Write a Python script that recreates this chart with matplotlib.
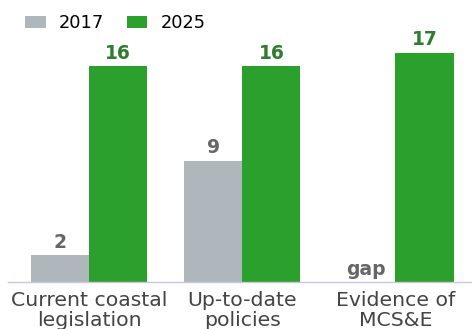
import matplotlib
matplotlib.use("Agg")
import matplotlib.pyplot as plt
import numpy as np

categories = ["Current coastal\nlegislation", "Up-to-date\npolicies", "Evidence of\nMCS&E"]
vals_2017 = [2, 9, 0]
vals_2025 = [16, 16, 17]
labels_2017 = ["2", "9", "gap"]
labels_2025 = ["16", "16", "17"]

W, H = 472, 329
fig = plt.figure(figsize=(W/100, H/100), dpi=100)
base = 282
ppu = 13.5
ymax = 18
top = base - ymax * ppu
ax = fig.add_axes([8/W, (H-base)/H, 1 - 8/W, (base-top)/H])

x = np.arange(len(categories))
w = 0.38
gray = "#b0b7bc"
green = "#2ca02c"
b1 = ax.bar(x - w/2, vals_2017, w, color=gray, label="2017")
b2 = ax.bar(x + w/2, vals_2025, w, color=green, label="2025")

for xi, v, t in zip(x, vals_2017, labels_2017):
    ax.text(xi - w/2, v + 0.25, t, ha="center", va="bottom", fontsize=13.5,
            fontweight="bold", color="#666666")
for xi, v, t in zip(x, vals_2025, labels_2025):
    ax.text(xi + w/2, v + 0.25, t, ha="center", va="bottom", fontsize=13.5,
            fontweight="bold", color="#2e7d2e")

ax.set_xlim(-0.53, 2.5)
ax.set_ylim(0, ymax)
ax.set_xticks(x)
ax.set_xticklabels(categories, fontsize=14.7, color="#444444", linespacing=1.12)
ax.tick_params(axis="x", length=0, pad=6.2)
ax.set_yticks([])
for s in ["top", "right", "left"]:
    ax.spines[s].set_visible(False)
ax.spines["bottom"].set_color("#c8c8dc")
ax.spines["bottom"].set_linewidth(1.0)

fig.legend(handles=[b1, b2], loc="upper left", bbox_to_anchor=(0.02, 1.005),
           ncol=2, frameon=False, fontsize=12.8, handlelength=1.15,
           handleheight=0.7, columnspacing=1.25, handletextpad=0.75)

fig.savefig("out.png", dpi=100)
